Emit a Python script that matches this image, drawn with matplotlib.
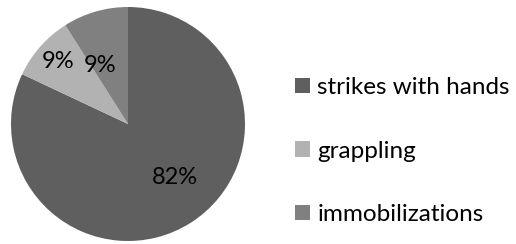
import matplotlib
matplotlib.use("Agg")
import matplotlib.pyplot as plt
from matplotlib.patches import Patch

labels = ['strikes with hands', 'grappling', 'immobilizations']
shares = [82, 9, 9]
colors = ['#5f5f5f', '#b2b2b2', '#808080']
# label offsets (fraction of radius), as placed in the original
label_pos = [(0.40, -0.46), (-0.60, 0.53), (-0.24, 0.50)]

plt.rcParams['font.family'] = ['Lato', 'DejaVu Sans']

W, H = 516, 244
fig = plt.figure(figsize=(W / 100, H / 100), dpi=100)
cx, cy, r = 128, 120, 117
ax = fig.add_axes([(cx - r) / W, (cy - r) / H, 2 * r / W, 2 * r / H])
wedges, _ = ax.pie(shares, colors=colors, startangle=90, counterclock=False,
                   radius=1, wedgeprops=dict(linewidth=0))
for (x, y), v in zip(label_pos, shares):
    ax.text(x, y, f"{v}%", ha='center', va='center', fontsize=17, color='black')
ax.set_xlim(-1, 1); ax.set_ylim(-1, 1)
ax.set_aspect('auto')
ax.axis('off')

handles = [Patch(facecolor=c, edgecolor='none', label=l) for c, l in zip(colors, labels)]
fig.legend(handles=handles, loc='center left', bbox_to_anchor=(295 / W, 93 / H),
           frameon=False, fontsize=17.5, handlelength=0.62, handleheight=0.62,
           handletextpad=0.3, labelspacing=1.75, borderpad=0, borderaxespad=0)

fig.savefig('out.png', dpi=100)
